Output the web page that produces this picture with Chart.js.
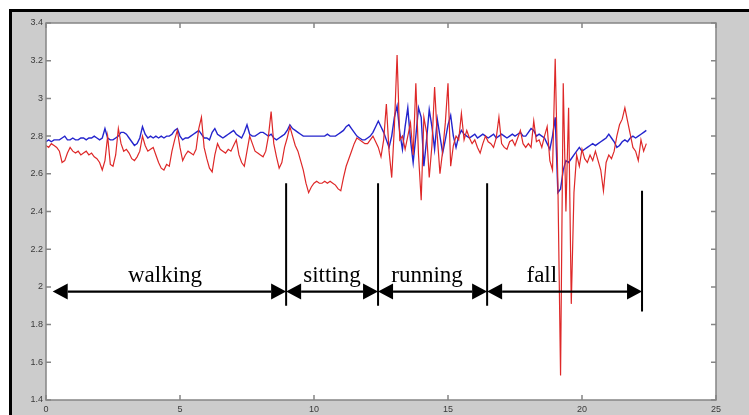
<!DOCTYPE html>
<html>
<head>
<meta charset="utf-8">
<script src="https://cdn.jsdelivr.net/npm/chart.js@4.4.0/dist/chart.umd.min.js"></script>
<style>
html, body { margin: 0; padding: 0; background: #fff; }
canvas { display: block; }
</style>
</head>
<body>
<canvas id="chart" width="749" height="415"></canvas>
<script>
// sampling interval of the recording (x axis units)
const sampleStep = 0.1;

// smoothed signal (blue)
const blueSeries = [
    2.77, 2.78, 2.77, 2.78, 2.78, 2.78, 2.79, 2.80, 2.78, 2.78,
    2.79, 2.78, 2.78, 2.79, 2.79, 2.78, 2.79, 2.79, 2.80, 2.79,
    2.78, 2.79, 2.84, 2.79, 2.78, 2.78, 2.79, 2.80, 2.82, 2.82,
    2.81, 2.79, 2.77, 2.75, 2.76, 2.79, 2.85, 2.81, 2.79, 2.80,
    2.79, 2.80, 2.79, 2.80, 2.79, 2.80, 2.80, 2.81, 2.83, 2.84,
    2.80, 2.78, 2.79, 2.79, 2.80, 2.81, 2.82, 2.83, 2.81, 2.79,
    2.79, 2.78, 2.82, 2.84, 2.81, 2.80, 2.79, 2.80, 2.81, 2.82,
    2.83, 2.81, 2.80, 2.79, 2.82, 2.86, 2.81, 2.80, 2.80, 2.81,
    2.82, 2.82, 2.81, 2.80, 2.81, 2.79, 2.78, 2.79, 2.80, 2.81,
    2.83, 2.86, 2.84, 2.83, 2.82, 2.81, 2.80, 2.80, 2.80, 2.80,
    2.80, 2.80, 2.80, 2.80, 2.80, 2.81, 2.80, 2.80, 2.80, 2.81,
    2.82, 2.83, 2.85, 2.86, 2.84, 2.82, 2.80, 2.79, 2.78, 2.78,
    2.79, 2.80, 2.82, 2.85, 2.88, 2.85, 2.82, 2.78, 2.74, 2.80,
    2.90, 2.96, 2.82, 2.73, 2.85, 2.95, 2.78, 2.66, 2.80, 2.95,
    2.90, 2.64, 2.78, 2.94, 2.85, 2.73, 2.89, 2.80, 2.71, 2.78,
    2.86, 2.91, 2.80, 2.74, 2.80, 2.83, 2.81, 2.80, 2.79, 2.80,
    2.81, 2.79, 2.80, 2.81, 2.80, 2.79, 2.80, 2.81, 2.79, 2.80,
    2.81, 2.80, 2.79, 2.80, 2.81, 2.80, 2.81, 2.82, 2.80, 2.80,
    2.82, 2.84, 2.83, 2.80, 2.81, 2.80, 2.79, 2.76, 2.73, 2.80,
    2.90, 2.50, 2.52, 2.62, 2.67, 2.66, 2.68, 2.70, 2.72, 2.74,
    2.72, 2.73, 2.74, 2.75, 2.76, 2.75, 2.76, 2.77, 2.78, 2.79,
    2.81, 2.79, 2.77, 2.74, 2.75, 2.77, 2.78, 2.77, 2.79, 2.80,
    2.79, 2.80, 2.81, 2.82, 2.83
];

// raw signal (red)
const redSeries = [
    2.75, 2.74, 2.76, 2.75, 2.74, 2.72, 2.66, 2.67, 2.71, 2.74,
    2.72, 2.71, 2.72, 2.70, 2.71, 2.72, 2.70, 2.71, 2.69, 2.68,
    2.66, 2.62, 2.67, 2.80, 2.65, 2.64, 2.70, 2.84, 2.76, 2.72,
    2.73, 2.71, 2.68, 2.67, 2.69, 2.72, 2.80, 2.75, 2.72, 2.73,
    2.74, 2.70, 2.66, 2.63, 2.62, 2.65, 2.64, 2.72, 2.78, 2.83,
    2.74, 2.67, 2.70, 2.72, 2.71, 2.70, 2.73, 2.84, 2.90, 2.74,
    2.68, 2.63, 2.61, 2.70, 2.76, 2.73, 2.72, 2.71, 2.73, 2.72,
    2.75, 2.78, 2.70, 2.66, 2.64, 2.72, 2.80, 2.76, 2.72, 2.71,
    2.70, 2.69, 2.72, 2.80, 2.93, 2.76, 2.69, 2.63, 2.66, 2.74,
    2.79, 2.85, 2.80, 2.75, 2.72, 2.67, 2.62, 2.55, 2.50, 2.53,
    2.55, 2.56, 2.55, 2.55, 2.56, 2.55, 2.56, 2.55, 2.54, 2.52,
    2.51, 2.58, 2.64, 2.68, 2.72, 2.76, 2.79, 2.78, 2.77, 2.76,
    2.76, 2.78, 2.80, 2.77, 2.74, 2.69, 2.78, 2.97, 2.72, 2.58,
    2.85, 3.23, 2.78, 2.80, 2.73, 2.80, 2.87, 2.70, 3.08, 2.70,
    2.46, 2.90, 2.82, 2.58, 2.75, 3.06, 2.80, 2.60, 2.72, 2.87,
    3.08, 2.64, 2.75, 2.80, 2.78, 2.92, 2.78, 2.83, 2.79, 2.76,
    2.78, 2.74, 2.71, 2.76, 2.80, 2.77, 2.76, 2.74, 2.79, 2.90,
    2.76, 2.74, 2.73, 2.77, 2.78, 2.75, 2.79, 2.83, 2.76, 2.74,
    2.76, 2.74, 2.88, 2.77, 2.78, 2.74, 2.80, 2.85, 2.67, 2.62,
    3.21, 2.55, 1.53, 3.08, 2.40, 2.95, 1.91, 2.50, 2.70, 2.64,
    2.73, 2.68, 2.66, 2.70, 2.67, 2.72, 2.67, 2.62, 2.51, 2.66,
    2.70, 2.68, 2.72, 2.80, 2.86, 2.89, 2.95, 2.88, 2.81, 2.74,
    2.72, 2.67, 2.78, 2.72, 2.76
];

// activity segments drawn under the signals
const activityNames = ['walking', 'sitting', 'running', 'fall'];
const activityBounds = [0.25, 8.96, 12.39, 16.46, 22.24];
const activityLabelX = [4.44, 10.67, 14.22, 18.5];
const dividerTop = [2.55, 2.55, 2.55, 2.51];
const dividerBottom = [1.90, 1.90, 1.90, 1.87];
const arrowLevel = 1.975;
const labelLevel = 2.026;

const toPoints = vals => vals.map((v, i) => ({ x: +(i * sampleStep).toFixed(1), y: v }));

const figurePlugin = {
    id: 'figure',
    beforeDraw(chart) {
        const { ctx, width, height, chartArea: a } = chart;
        ctx.save();
        ctx.fillStyle = '#fff';
        ctx.fillRect(0, 0, width, height);
        ctx.fillStyle = '#cccccc';
        ctx.fillRect(9, 9, width - 9, height - 9);
        ctx.fillStyle = '#000';
        ctx.fillRect(9, 9, width - 9, 3);
        ctx.fillRect(9, 9, 3, height - 9);
        ctx.fillStyle = '#fff';
        ctx.fillRect(a.left, a.top, a.right - a.left, a.bottom - a.top);
        ctx.restore();
    },
    afterDatasetsDraw(chart) {
        const { ctx, chartArea: a, scales: { x, y } } = chart;
        ctx.save();
        // axis box with inward ticks
        ctx.strokeStyle = '#858585';
        ctx.lineWidth = 1.5;
        ctx.strokeRect(a.left, a.top, a.right - a.left, a.bottom - a.top);
        ctx.beginPath();
        x.ticks.forEach(t => {
            const px = x.getPixelForValue(t.value);
            ctx.moveTo(px, a.bottom); ctx.lineTo(px, a.bottom - 5);
            ctx.moveTo(px, a.top); ctx.lineTo(px, a.top + 5);
        });
        y.ticks.forEach(t => {
            const py = y.getPixelForValue(t.value);
            ctx.moveTo(a.left, py); ctx.lineTo(a.left + 5, py);
            ctx.moveTo(a.right, py); ctx.lineTo(a.right - 5, py);
        });
        ctx.stroke();

        // dividers, arrows and labels
        ctx.strokeStyle = '#000';
        ctx.fillStyle = '#000';
        ctx.lineWidth = 2;
        ctx.beginPath();
        for (let i = 1; i < activityBounds.length; i++) {
            const px = x.getPixelForValue(activityBounds[i]);
            ctx.moveTo(px, y.getPixelForValue(dividerTop[i - 1]));
            ctx.lineTo(px, y.getPixelForValue(dividerBottom[i - 1]));
        }
        ctx.stroke();

        const ay = y.getPixelForValue(arrowLevel);
        const head = 15, half = 8;
        activityNames.forEach((name, i) => {
            const x0 = x.getPixelForValue(activityBounds[i]);
            const x1 = x.getPixelForValue(activityBounds[i + 1]);
            ctx.lineWidth = 2.2;
            ctx.beginPath();
            ctx.moveTo(x0 + head, ay);
            ctx.lineTo(x1 - head, ay);
            ctx.stroke();
            ctx.beginPath();
            ctx.moveTo(x0, ay); ctx.lineTo(x0 + head, ay - half); ctx.lineTo(x0 + head, ay + half);
            ctx.closePath();
            ctx.moveTo(x1, ay); ctx.lineTo(x1 - head, ay - half); ctx.lineTo(x1 - head, ay + half);
            ctx.closePath();
            ctx.fill();

            ctx.font = '23px "Liberation Serif", "Times New Roman", serif';
            ctx.textAlign = 'center';
            ctx.textBaseline = 'alphabetic';
            ctx.fillText(name, x.getPixelForValue(activityLabelX[i]), y.getPixelForValue(labelLevel));
        });
        ctx.restore();
    }
};

const tickFont = { family: '"Liberation Sans", Arial, sans-serif', size: 9 };

new Chart(document.getElementById('chart').getContext('2d'), {
    type: 'line',
    data: {
        datasets: [
            {
                label: 'raw',
                data: toPoints(redSeries),
                borderColor: 'rgb(222, 40, 40)',
                borderWidth: 1.2,
                pointRadius: 0,
                tension: 0
            },
            {
                label: 'smoothed',
                data: toPoints(blueSeries),
                borderColor: 'rgb(36, 36, 205)',
                borderWidth: 1.4,
                pointRadius: 0,
                tension: 0
            }
        ]
    },
    options: {
        responsive: false,
        animation: false,
        layout: { padding: { left: 0, top: 23, right: 33, bottom: 0 } },
        plugins: {
            legend: { display: false },
            tooltip: { enabled: false }
        },
        scales: {
            x: {
                type: 'linear',
                min: 0,
                max: 25,
                ticks: { stepSize: 5, font: tickFont, color: '#3a3a3a', padding: 4, maxRotation: 0 },
                grid: { display: false, drawTicks: false },
                border: { display: false },
                afterFit: s => { s.height = 15; }
            },
            y: {
                min: 1.4,
                max: 3.4,
                ticks: {
                    stepSize: 0.2,
                    font: tickFont,
                    color: '#3a3a3a',
                    padding: 3,
                    callback: v => String(+v.toFixed(1))
                },
                grid: { display: false, drawTicks: false },
                border: { display: false },
                afterFit: s => { s.width = 46; }
            }
        }
    },
    plugins: [figurePlugin]
});
</script>
</body>
</html>
